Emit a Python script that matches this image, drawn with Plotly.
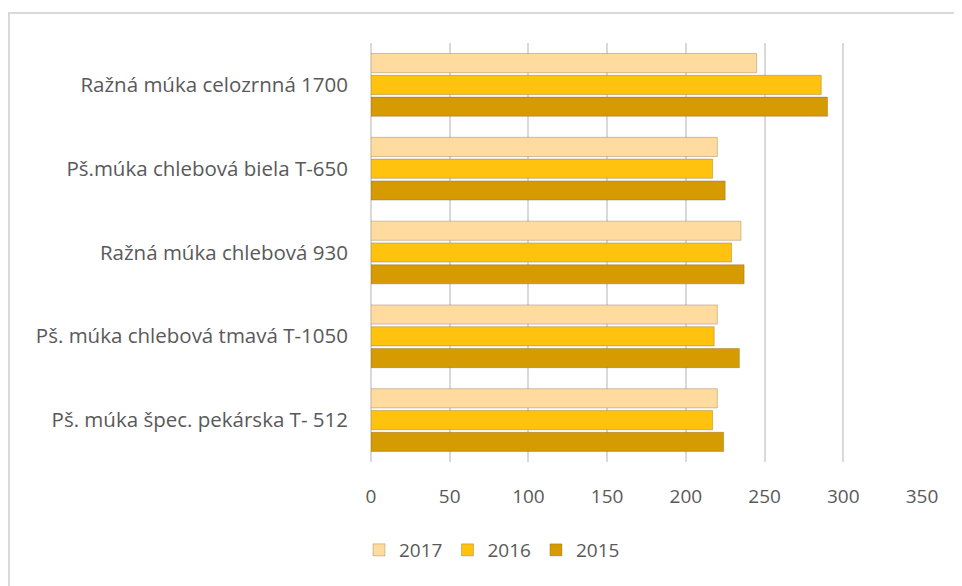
import plotly.graph_objects as go

categories = [
    "Pš. múka špec. pekárska T- 512",
    "Pš. múka chlebová tmavá T-1050",
    "Ražná múka chlebová 930",
    "Pš.múka chlebová biela T-650",
    "Ražná múka celozrnná 1700",
]
years = ["2015", "2016", "2017"]
v2015 = [224, 234, 237, 225, 290]
v2016 = [217, 218, 229, 217, 286]
v2017 = [220, 220, 235, 220, 245]
values = {"2015": v2015, "2016": v2016, "2017": v2017}
colors = {"2015": "#D59B00", "2016": "#FFC20E", "2017": "#FFDBA0"}
x_ticks = [0, 50, 100, 150, 200, 250, 300, 350]

fig = go.Figure()
for y in years:
    fig.add_trace(go.Bar(
        y=categories, x=values[y], name=y, orientation="h",
        marker=dict(color=colors[y], line=dict(color="rgba(110,80,20,0.3)", width=1)),
    ))

# page has an 8px body margin; compensate so the plot lands where the reference has it
OFF = 8
W, H = 962, 586
L, R, T, B = 371 - OFF, 40 + OFF, 43 - OFF, 124 + OFF
pw, ph = W - L - R, H - T - B

def px_x(p):
    return (p - OFF - L) / pw

def px_y(p):
    return (H - B - (p - OFF)) / ph

fig.update_layout(
    width=W, height=H,
    margin=dict(l=L, r=R, t=T, b=B),
    paper_bgcolor="white", plot_bgcolor="white",
    barmode="group", bargap=0.22, bargroupgap=0.12,
    font=dict(family="Open Sans", color="#595959", size=18),
    xaxis=dict(range=[0, 350], tickvals=x_ticks, showgrid=True,
               gridcolor="#D9D9D9", gridwidth=2, zeroline=True,
               zerolinecolor="#D9D9D9", zerolinewidth=2,
               tickfont=dict(family="Open Sans", size=19, color="#595959"),
               ticks="", ticklabelstandoff=21),
    yaxis=dict(tickfont=dict(family="Open Sans", size=20.5, color="#595959"),
               ticks="", ticklabelstandoff=22),
    legend=dict(orientation="h", x=px_x(492), xanchor="center",
                y=px_y(550), yanchor="middle", traceorder="reversed",
                font=dict(family="Open Sans", size=19, color="#595959"),
                itemwidth=30),
    showlegend=True,
    shapes=[dict(type="rect", xref="paper", yref="paper",
                 x0=px_x(9), x1=px_x(1000), y0=px_y(640), y1=px_y(13),
                 line=dict(color="#D9D9D9", width=2), fillcolor="rgba(0,0,0,0)",
                 layer="below")],
)

fig.write_html("out.html")
